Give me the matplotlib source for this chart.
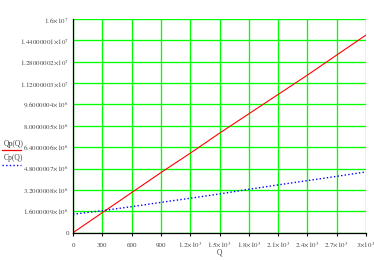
import matplotlib
matplotlib.use("Agg")
import matplotlib.pyplot as plt
from matplotlib.lines import Line2D

plt.rcParams['mathtext.fontset'] = 'stix'
plt.rcParams['font.family'] = ['Liberation Serif', 'DejaVu Serif']

Q = [0, 300, 600, 900, 1200, 1500, 1800, 2100, 2400, 2700, 3000]
Qp = [0, 1.5e6, 3.0e6, 4.5e6, 5.95e6, 7.45e6, 8.9e6, 10.35e6, 11.8e6, 13.3e6, 14.8e6]
Cp = [1.38e6, 1.65e6, 1.95e6, 2.27e6, 2.58e6, 2.9e6, 3.25e6, 3.58e6, 3.9e6, 4.22e6, 4.55e6]

xticks = [0, 300, 600, 900, 1200, 1500, 1800, 2100, 2400, 2700, 3000]
xlabels = ["0", "300", "600", "900", r"$1.2{\times}10^{3}$", r"$1.5{\times}10^{3}$",
           r"$1.8{\times}10^{3}$", r"$2.1{\times}10^{3}$", r"$2.4{\times}10^{3}$",
           r"$2.7{\times}10^{3}$", r"$3{\times}10^{3}$"]
yticks = [0, 1.6e6, 3.2e6, 4.8e6, 6.4e6, 8.0e6, 9.6e6, 11.2e6, 12.8e6, 14.4e6, 16e6]
ylabels = ["0", r"$1.6000009{\times}10^{6}$", r"$3.2000008{\times}10^{6}$",
           r"$4.8000007{\times}10^{6}$", r"$6.4000006{\times}10^{6}$",
           r"$8.0000005{\times}10^{6}$", r"$9.6000004{\times}10^{6}$",
           r"$1.12000003{\times}10^{7}$", r"$1.28000002{\times}10^{7}$",
           r"$1.44000001{\times}10^{7}$", r"$1.6{\times}10^{7}$"]

txt = '#444444'
fig = plt.figure(figsize=(3.74, 2.6), dpi=100)
ax = fig.add_axes([73/374, 1-232.7/260, 293/374, 213.7/260])
ax.set_xlim(0, 3000)
ax.set_ylim(0, 16e6)
ax.set_xticks(xticks)
ax.set_xticklabels(xlabels, fontsize=5, color=txt)
for t in ax.get_xticklabels():
    t.set_va('baseline')
ax.set_yticks(yticks)
ax.set_yticklabels(ylabels, fontsize=5, color=txt)
for t in ax.get_yticklabels():
    t.set_va('center_baseline')
ax.grid(True, color='#00ff00', linewidth=0.95)
ax.set_axisbelow(True)
for s in ['top', 'right']:
    ax.spines[s].set_visible(False)
for s in ['left', 'bottom']:
    ax.spines[s].set_color('black')
    ax.spines[s].set_linewidth(0.9)
ax.tick_params(axis='x', length=2, width=0.8, color='black', pad=8)
ax.tick_params(axis='y', length=0, pad=3)

ax.plot(Q, Qp, color='red', linewidth=0.8)
ax.plot(Q, Cp, color='blue', linewidth=1.0, linestyle=(0, (1, 1.6)))

ax.set_xlabel("Q", fontsize=5.5, color=txt, va='center')
ax.xaxis.set_label_coords(0.5, -(253 - 232.7) / 213.7)

fig.text(4/374, 1-144/260, "Qp(Q)", fontsize=5.5, color=txt, va='center')
fig.add_artist(Line2D([2/374, 21/374], [1-150/260, 1-150/260], color='red', linewidth=0.9))
fig.text(4/374, 1-158/260, "Cp(Q)", fontsize=5.5, color=txt, va='center')
fig.add_artist(Line2D([2/374, 21/374], [1-165/260, 1-165/260], color='blue', linewidth=1.0,
                      linestyle=(0, (1, 1.6))))

fig.savefig("out.png", dpi=100)
